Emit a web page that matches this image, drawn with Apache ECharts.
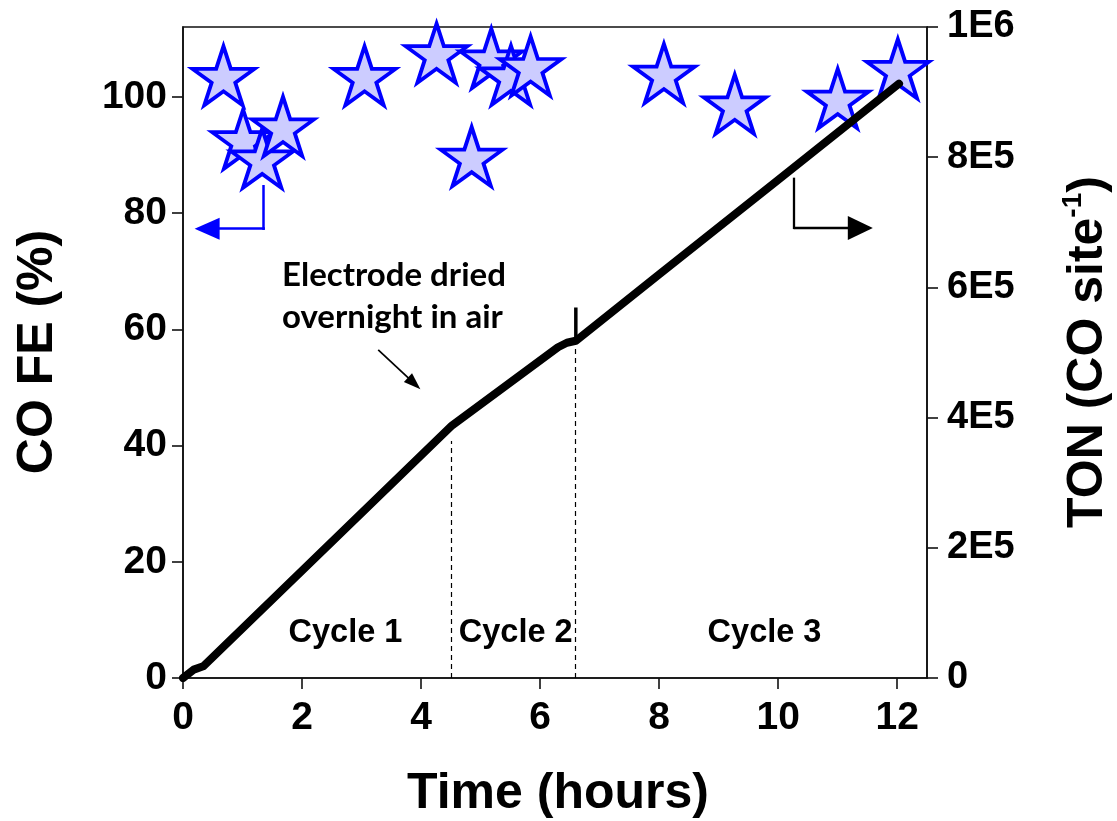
<!DOCTYPE html>
<html>
<head>
<meta charset="utf-8">
<script src="https://cdn.jsdelivr.net/npm/echarts@6/dist/echarts.min.js"></script>
<style>
  html, body { margin: 0; padding: 0; background: #fff; }
  #chart { width: 1117px; height: 821px; }
</style>
</head>
<body>
<div id="chart"></div>
<script>
// CO Faradaic efficiency (%) at each sampling time (hours)
const feTime  = [0.68, 1.01, 1.33, 1.68, 3.05, 4.26, 4.85, 5.18, 5.51, 5.84, 8.08, 9.27, 11.0, 12.01];
const feValue = [103.6, 92.7, 89.4, 94.9, 103.6, 107.5, 89.7, 106.6, 103.7, 105.3, 104.0, 98.7, 99.7, 104.8];

// Cumulative turnover number (CO per site) over time
const tonTime  = [0, 0.18, 0.34, 4.52, 6.30, 6.45, 6.60, 8.0, 10.0, 12.03];
const tonValue = [0, 12900, 18000, 388000, 508000, 515000, 518000, 620000, 765000, 913000];

// Short jump in TON when cycle 3 starts
const spikeTime  = [6.6, 6.6];
const spikeValue = [518000, 569000];

// Cycle boundaries and labels
const cycleBreaks   = [4.51, 6.59];
const cycleBreakTop = [364000, 510000];
const cycleLabels   = ['Cycle 1', 'Cycle 2', 'Cycle 3'];
const cycleLabelX   = [2.73, 5.59, 9.77];
const cycleLabelFE  = 7.66;

// Axis ticks
const xTicks   = [0, 2, 4, 6, 8, 10, 12];
const feTicks  = [0, 20, 40, 60, 80, 100];
const tonTicks = [0, 200000, 400000, 600000, 800000, 1000000];

const FONT = "'Liberation Sans', Arial, Helvetica, sans-serif";
const BLUE = '#0000ff';

// Five-pointed star outline used as the FE marker
function starPath() {
  const pts = [];
  for (let i = 0; i < 10; i++) {
    const a = -Math.PI / 2 + i * Math.PI / 5;
    const r = i % 2 ? 19.1 : 50;
    pts.push((50 + r * Math.cos(a)).toFixed(2) + ' ' + (50 + r * Math.sin(a)).toFixed(2));
  }
  return 'path://M' + pts.join(' L') + ' Z';
}

function tonFormat(v) {
  if (v === 0) return '0';
  if (v >= 1e6) return (v / 1e6) + 'E6';
  return (v / 1e5) + 'E5';
}

const chart = echarts.init(document.getElementById('chart'), null, { renderer: 'canvas' });

const axisLine = { show: true, lineStyle: { color: '#111', width: 1.6 } };
const axisTick = { show: true, length: 11, lineStyle: { color: '#111', width: 1.6 } };

const option = {
  animation: false,
  backgroundColor: '#fff',
  grid: {
    left: 183, right: 190, top: 27, bottom: 143,
    show: true, borderColor: '#111', borderWidth: 1.6,
    containLabel: false, outerBoundsMode: 'none'
  },
  xAxis: {
    type: 'value', min: 0, max: 12.5, interval: 2,
    axisLine, splitLine: { show: false },
    axisTick: Object.assign({ customValues: xTicks }, axisTick),
    axisLabel: {
      customValues: xTicks, margin: 21,
      fontFamily: FONT, fontWeight: 'bold', fontSize: 39, color: '#000'
    }
  },
  yAxis: [
    {
      type: 'value', min: 0, max: 112, interval: 20, position: 'left',
      axisLine, splitLine: { show: false },
      axisTick: Object.assign({ customValues: feTicks }, axisTick),
      axisLabel: {
        customValues: feTicks, margin: 16,
        fontFamily: FONT, fontWeight: 'bold', fontSize: 39, color: '#000'
      }
    },
    {
      type: 'value', min: 0, max: 1000000, interval: 200000, position: 'right',
      axisLine, splitLine: { show: false },
      axisTick: Object.assign({ customValues: tonTicks }, axisTick),
      axisLabel: {
        customValues: tonTicks, margin: 20, formatter: tonFormat,
        fontFamily: FONT, fontWeight: 'bold', fontSize: 38, color: '#000'
      }
    }
  ],
  series: [
    {
      name: 'CO FE',
      type: 'scatter',
      yAxisIndex: 0,
      z: 2,
      symbol: starPath(),
      symbolSize: [62, 59],
      itemStyle: { color: '#ccccff', borderColor: BLUE, borderWidth: 3.8, opacity: 1 },
      data: feTime.map((t, i) => [t, feValue[i]]),
      markLine: {
        silent: true, animation: false,
        label: { show: false },
        lineStyle: { color: BLUE, width: 2.5, type: 'solid', cap: 'square' },
        itemStyle: { color: BLUE },
        data: [
          [
            { coord: [1.355, 84.6], symbol: 'none' },
            { coord: [1.355, 77.3], symbol: 'none' }
          ],
          [
            { coord: [1.355, 77.3], symbol: 'none' },
            { coord: [0.405, 77.3], symbol: 'triangle', symbolSize: [22, 25] }
          ]
        ]
      }
    },
    {
      name: 'TON',
      type: 'line',
      yAxisIndex: 1,
      z: 3,
      showSymbol: false,
      symbol: 'none',
      lineStyle: { color: '#000', width: 8, cap: 'round', join: 'round' },
      data: tonTime.map((t, i) => [t, tonValue[i]]),
      markLine: {
        silent: true, animation: false,
        label: { show: false },
        symbol: 'none',
        lineStyle: { color: '#000', width: 1.2, type: [5, 4] },
        itemStyle: { color: '#000' },
        data: cycleBreaks.map((x, i) => [
          { coord: [x, 0], symbol: 'none' },
          { coord: [x, cycleBreakTop[i]], symbol: 'none' }
        ]).concat([
          [
            { coord: [10.26, 766800], symbol: 'none', lineStyle: { type: 'solid', width: 2.3, cap: 'square' } },
            { coord: [10.26, 691400], symbol: 'none' }
          ],
          [
            { coord: [10.26, 691400], symbol: 'none', lineStyle: { type: 'solid', width: 2.3 } },
            { coord: [11.38, 691400], symbol: 'triangle', symbolSize: [24, 25] }
          ],
          [
            { coord: [3.28, 504000], symbol: 'none', lineStyle: { type: 'solid', width: 1.7 } },
            { coord: [3.884, 452600], symbol: 'triangle', symbolSize: [12, 17] }
          ]
        ])
      }
    },
    {
      name: 'TON restart',
      type: 'line',
      yAxisIndex: 1,
      z: 3,
      showSymbol: false,
      symbol: 'none',
      lineStyle: { color: '#000', width: 3.5 },
      data: spikeTime.map((t, i) => [t, spikeValue[i]])
    }
  ]
};

chart.setOption(option);

// Annotations placed from data coordinates
const toPx = (x, y) => chart.convertToPixel({ seriesIndex: 0 }, [x, y]);

const graphics = [];
cycleLabels.forEach((txt, i) => {
  const p = toPx(cycleLabelX[i], cycleLabelFE);
  graphics.push({
    type: 'text', x: p[0], y: p[1], z: 10,
    style: { text: txt, fontFamily: FONT, fontWeight: 'bold', fontSize: 32.5,
             fill: '#000', align: 'center', verticalAlign: 'middle' }
  });
});

const noteLines = ['Electrode dried', 'overnight in air'];
const noteFE = [69.2, 62.0];
noteLines.forEach((txt, i) => {
  const p = toPx(1.664, noteFE[i]);
  graphics.push({
    type: 'text', x: p[0], y: p[1], z: 10,
    style: { text: txt, fontFamily: "Lato, 'Open Sans', sans-serif", fontWeight: 'bold', fontSize: 33,
             fill: '#000', align: 'left', verticalAlign: 'middle' }
  });
});

// Axis titles
graphics.push({
  type: 'text', x: 558, y: 794, z: 10,
  style: { text: 'Time (hours)', fontFamily: FONT, fontWeight: 'bold', fontSize: 50,
           fill: '#000', align: 'center', verticalAlign: 'middle' }
});
graphics.push({
  type: 'text', x: 38, y: 352, rotation: Math.PI / 2, z: 10,
  style: { text: 'CO FE (%)', fontFamily: FONT, fontWeight: 'bold', fontSize: 50,
           fill: '#000', align: 'center', verticalAlign: 'middle' }
});
graphics.push({
  type: 'text', x: 1086, y: 352, rotation: Math.PI / 2, z: 10,
  style: {
    text: '{a|TON (CO site}{s|-1}{a|)}',
    align: 'center', verticalAlign: 'middle',
    rich: {
      a: { fontFamily: FONT, fontWeight: 'bold', fontSize: 50, fill: '#000', color: '#000', verticalAlign: 'bottom', lineHeight: 54 },
      s: { fontFamily: FONT, fontWeight: 'bold', fontSize: 28, fill: '#000', color: '#000', verticalAlign: 'top', lineHeight: 54 }
    }
  }
});

chart.setOption({ graphic: graphics });
</script>
</body>
</html>
